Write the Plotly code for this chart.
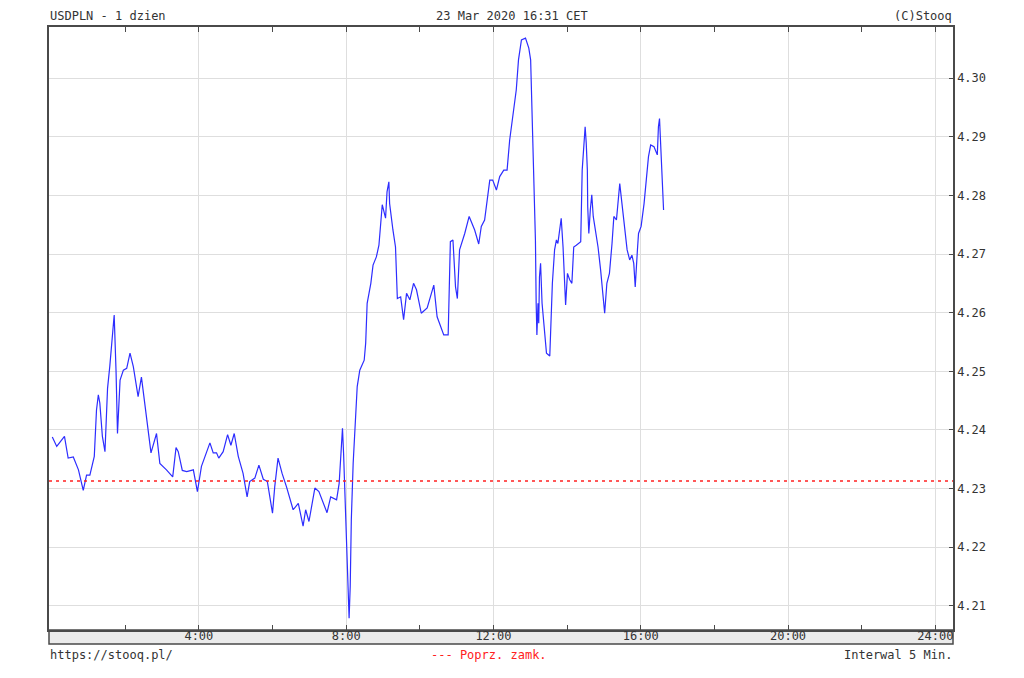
import plotly.graph_objects as go

# Time of day in hours and USDPLN quote
hours = [
    0.02, 0.14, 0.35, 0.45, 0.59, 0.73, 0.86, 0.95, 1.04, 1.16, 1.22, 1.27, 1.31, 1.38, 1.45,
    1.52, 1.58, 1.67, 1.70, 1.75, 1.79, 1.86, 1.95, 2.04, 2.13, 2.22, 2.35, 2.44, 2.53, 2.70,
    2.85, 2.94, 3.12, 3.29, 3.38, 3.44, 3.55, 3.67, 3.85, 3.96,
    4.07, 4.21, 4.30, 4.39, 4.48, 4.54, 4.66, 4.78, 4.87, 4.96, 5.07, 5.20, 5.31, 5.38, 5.52,
    5.63, 5.75, 5.86, 5.93, 6.00, 6.06, 6.15, 6.26, 6.38, 6.56, 6.70, 6.83, 6.90, 6.99, 7.15,
    7.26, 7.48, 7.58, 7.74, 7.81, 7.87, 7.90, 7.93, 7.98, 8.02, 8.06, 8.08, 8.11, 8.14, 8.19,
    8.25, 8.30, 8.37, 8.49, 8.53, 8.57, 8.62, 8.67, 8.73, 8.82, 8.89, 8.98, 9.07, 9.11, 9.16,
    9.18, 9.27, 9.34, 9.39, 9.48, 9.56, 9.64, 9.73, 9.83, 9.91, 10.04, 10.20, 10.38, 10.47,
    10.54, 10.65, 10.77, 10.81, 10.83, 10.90, 10.97, 11.02, 11.08, 11.22, 11.34, 11.49, 11.60,
    11.67, 11.76, 11.90, 11.98, 12.08, 12.17, 12.28, 12.37, 12.44, 12.53, 12.62, 12.68, 12.76,
    12.87, 12.96, 13.01, 13.03, 13.06, 13.10, 13.14, 13.16, 13.18, 13.21, 13.23, 13.25, 13.28,
    13.32, 13.37, 13.44, 13.53, 13.55, 13.60, 13.66, 13.71, 13.75, 13.82, 13.84, 13.89, 13.93,
    13.96, 14.01, 14.07, 14.13, 14.18, 14.25, 14.37, 14.41, 14.46, 14.49, 14.52, 14.55, 14.56,
    14.59, 14.63, 14.67, 14.71, 14.77, 14.84, 14.91, 14.97, 15.02, 15.08, 15.15, 15.22, 15.27,
    15.34, 15.40, 15.43, 15.49, 15.57, 15.63, 15.70, 15.76, 15.81, 15.85, 15.91, 15.94, 16.01,
    16.09, 16.15, 16.21, 16.27, 16.36, 16.45, 16.48, 16.51, 16.53, 16.57, 16.60, 16.62,
]
quotes = [
    4.2388, 4.2372, 4.2389, 4.2352, 4.2354, 4.2332, 4.2297, 4.2323, 4.2323, 4.2355, 4.2434, 4.2460, 4.2446, 4.2389, 4.2363,
    4.2471, 4.2508, 4.2576, 4.2596, 4.2502, 4.2394, 4.2485, 4.2502, 4.2505, 4.2531, 4.2508, 4.2457, 4.2490, 4.2446, 4.2361,
    4.2394, 4.2343, 4.2332, 4.2320, 4.2370, 4.2363, 4.2331, 4.2329, 4.2332, 4.2295,
    4.2338, 4.2361, 4.2378, 4.2361, 4.2361, 4.2352, 4.2363, 4.2392, 4.2374, 4.2394, 4.2355, 4.2326, 4.2286, 4.2312, 4.2318,
    4.2340, 4.2316, 4.2312, 4.2286, 4.2258, 4.2303, 4.2352, 4.2326, 4.2303, 4.2264, 4.2275, 4.2236, 4.2264, 4.2244, 4.2301,
    4.2295, 4.2259, 4.2286, 4.2281, 4.2309, 4.2380, 4.2403, 4.2360, 4.2252, 4.2184, 4.2116, 4.2079, 4.2133, 4.2247, 4.2343,
    4.2406, 4.2474, 4.2502, 4.2519, 4.2548, 4.2616, 4.2633, 4.2650, 4.2681, 4.2695, 4.2715, 4.2784, 4.2761, 4.2806, 4.2823,
    4.2786, 4.2741, 4.2712, 4.2624, 4.2627, 4.2588, 4.2633, 4.2622, 4.2650, 4.2639, 4.2599, 4.2608, 4.2647, 4.2593,
    4.2582, 4.2562, 4.2562, 4.2678, 4.2721, 4.2724, 4.2644, 4.2624, 4.2707, 4.2735, 4.2764, 4.2741, 4.2717,
    4.2747, 4.2758, 4.2826, 4.2826, 4.2809, 4.2832, 4.2843, 4.2843, 4.2894, 4.2934, 4.2980, 4.3031, 4.3065,
    4.3068, 4.3051, 4.3031, 4.2980, 4.2900, 4.2815, 4.2724, 4.2616, 4.2562, 4.2616, 4.2582, 4.2661, 4.2684,
    4.2616, 4.2582, 4.2531, 4.2526, 4.2559, 4.2650, 4.2707, 4.2724, 4.2718, 4.2747, 4.2761, 4.2712, 4.2639,
    4.2613, 4.2667, 4.2656, 4.2650, 4.2712, 4.2715, 4.2721, 4.2843, 4.2900, 4.2917, 4.2889, 4.2843, 4.2781,
    4.2735, 4.2775, 4.2801, 4.2764, 4.2741, 4.2712, 4.2673, 4.2633, 4.2599, 4.2650, 4.2667, 4.2718, 4.2764,
    4.2758, 4.2803, 4.2820, 4.2786, 4.2741, 4.2707, 4.2690, 4.2698, 4.2684, 4.2644, 4.2707, 4.2735, 4.2747,
    4.2786, 4.2826, 4.2866, 4.2886, 4.2883, 4.2869, 4.2917, 4.2931, 4.2900, 4.2855, 4.2803, 4.2775,
]
prev_close = 4.2313

x_tick_vals = [4, 8, 12, 16, 20, 24]
x_tick_text = ["4:00", "8:00", "12:00", "16:00", "20:00", "24:00"]
y_tick_vals = [4.21, 4.22, 4.23, 4.24, 4.25, 4.26, 4.27, 4.28, 4.29, 4.30]

title_left = "USDPLN - 1 dzien"
title_mid = "23 Mar 2020 16:31 CET"
title_right = "(C)Stooq"
foot_left = "https://stooq.pl/"
foot_mid = "--- Poprz. zamk."
foot_right = "Interwal 5 Min."

FONT = "DejaVu Sans Mono"
TXT = "#333333"
FRAME = "#4a4a4a"
GRID = "#dedede"

# page body has an 8px margin; positions below are in page pixels minus that offset
OFF = 8
W, H = 1008, 662
ml = 49 - OFF
mt = 27 - OFF
mr = W - (953 - OFF)
mb = H - (630 - OFF)
pw = W - ml - mr
ph = H - mt - mb

fig = go.Figure()
fig.add_trace(go.Scatter(x=hours, y=quotes, mode="lines",
                         line=dict(color="#2d2dff", width=1.2), hoverinfo="skip"))
fig.add_trace(go.Scatter(x=[-0.07, 24.48], y=[prev_close, prev_close], mode="lines",
                         line=dict(color="#ff2020", width=1.3, dash="3px,4px"), hoverinfo="skip"))

fig.update_layout(
    width=W, height=H,
    margin=dict(l=ml, r=mr, t=mt, b=mb, pad=0),
    paper_bgcolor="white", plot_bgcolor="white",
    showlegend=False,
    font=dict(family=FONT, size=12, color=TXT),
    xaxis=dict(
        range=[-0.07, 24.48], tickvals=x_tick_vals, ticktext=x_tick_text,
        showgrid=True, gridcolor=GRID, gridwidth=1, zeroline=False,
        showline=True, linecolor=FRAME, linewidth=1.5, mirror="allticks",
        ticks="inside", ticklen=5, tickcolor=FRAME, tickwidth=1,
        ticklabelstandoff=-6,
        minor=dict(tickvals=[2, 6, 10, 14, 18, 22], ticks="inside", ticklen=5,
                   tickcolor=FRAME, showgrid=False),
        tickfont=dict(family=FONT, size=12, color=TXT),
        fixedrange=True,
    ),
    yaxis=dict(
        range=[4.2059, 4.3087], side="right", tickvals=y_tick_vals, tickformat=".2f",
        showgrid=True, gridcolor=GRID, gridwidth=1, zeroline=False,
        showline=True, linecolor=FRAME, linewidth=1.5, mirror=True,
        ticks="inside", ticklen=4, tickcolor=FRAME,
        tickfont=dict(family=FONT, size=12, color=TXT),
        fixedrange=True,
    ),
)

band_h = 14 / ph
fig.add_shape(type="rect", xref="paper", yref="paper", x0=0, x1=1, y0=-band_h, y1=0,
              fillcolor="#ebebeb", line=dict(color=FRAME, width=1.5), layer="below")

def py(page_y):
    return 1 - (page_y - OFF - mt) / ph

def px(page_x):
    return (page_x - OFF - ml) / pw

anns = [
    (title_left, 0, "left", 16, TXT),
    (title_mid, px(512), "center", 16, TXT),
    (title_right, 1, "right", 16, TXT),
    (foot_left, 0, "left", 655, TXT),
    (foot_mid, px(489), "center", 655, "#ff2020"),
    (foot_right, 1, "right", 655, TXT),
]
for text, x, anchor, ypx, col in anns:
    fig.add_annotation(text=text, xref="paper", yref="paper", x=x, y=py(ypx),
                       xanchor=anchor, yanchor="middle", showarrow=False,
                       font=dict(family=FONT, size=12, color=col), borderpad=0)

fig.write_html("out.html")
